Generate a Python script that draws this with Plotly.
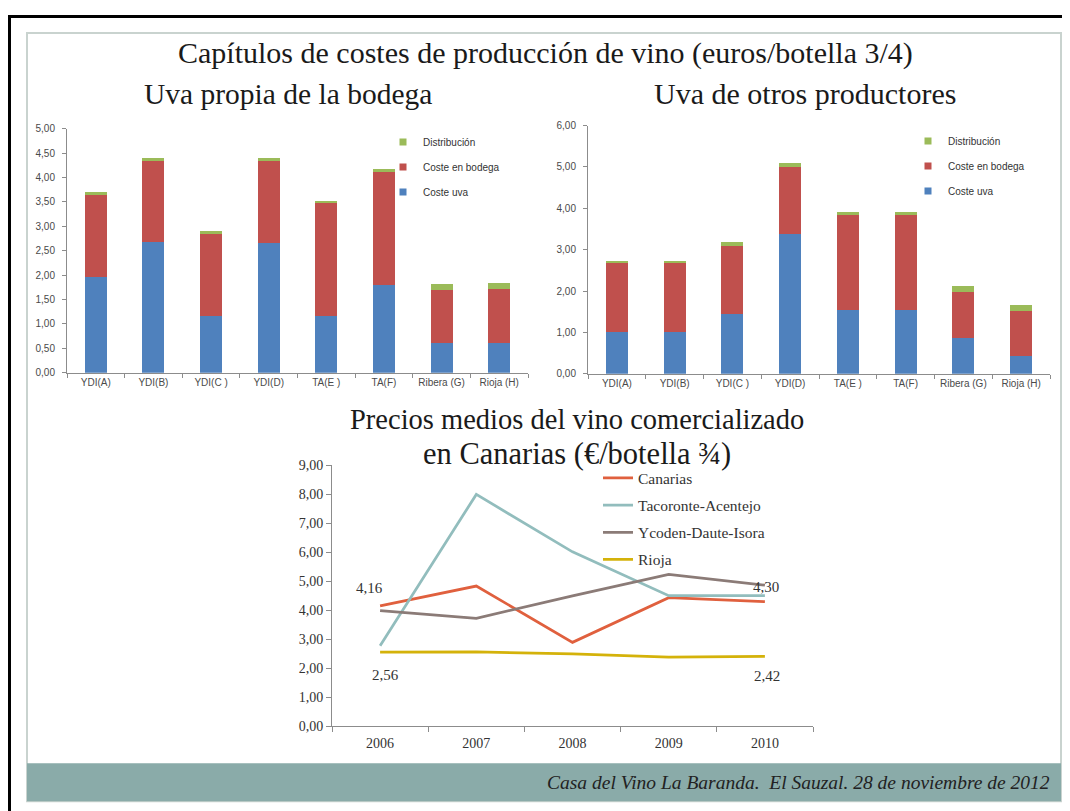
import plotly.graph_objects as go

# Mapping from reference pixels to figure paper coordinates (measured from previous renders)
OFF_X = 8
OFF_Y, SY = 13, 0.985
W, H = 1054, 811

# ---------------- data ----------------
cats = ["YDI(A)", "YDI(B)", "YDI(C )", "YDI(D)", "TA(E )", "TA(F)", "Ribera (G)", "Rioja (H)"]

propia_uva = [1.97, 2.67, 1.16, 2.65, 1.16, 1.80, 0.60, 0.61]
propia_bodega = [1.68, 1.67, 1.68, 1.69, 2.31, 2.32, 1.09, 1.10]
propia_dist = [0.06, 0.06, 0.07, 0.06, 0.05, 0.06, 0.13, 0.13]

otros_uva = [1.00, 1.00, 1.44, 3.37, 1.54, 1.54, 0.86, 0.42]
otros_bodega = [1.69, 1.69, 1.66, 1.64, 2.31, 2.31, 1.12, 1.10]
otros_dist = [0.04, 0.04, 0.09, 0.08, 0.05, 0.05, 0.15, 0.14]

years = ["2006", "2007", "2008", "2009", "2010"]
canarias = [4.16, 4.84, 2.90, 4.44, 4.30]
tacoronte = [2.78, 8.00, 6.02, 4.51, 4.51]
ycoden = [3.99, 3.73, 4.50, 5.24, 4.87]
rioja = [2.56, 2.57, 2.50, 2.39, 2.42]

# ---------------- helpers ----------------
def px(x):
    return (x - OFF_X) / W

def py(y):
    return 1 - max((y - OFF_Y) / SY, 1.5) / H

def dx(a, b):
    return [px(a), px(b)]

def dy(top, bottom):
    return [py(bottom), py(top)]

BLUE, RED, GREEN = "#4F81BD", "#C0504D", "#9BBB59"
SANS = "Liberation Sans, Arial, sans-serif"
SERIF = "Liberation Serif, DejaVu Serif, serif"
TICK = "#4A4A4A"

fig = go.Figure()

def add_stack(uva, bod, dist, xa, ya, leg):
    series = [("Coste uva", uva, BLUE, 3), ("Coste en bodega", bod, RED, 2), ("Distribución", dist, GREEN, 1)]
    for name, vals, col, rank in series:
        fig.add_trace(go.Bar(x=cats, y=vals, name=name, marker=dict(color=col, line=dict(width=0)),
                             xaxis=xa, yaxis=ya, showlegend=False))
    for name, vals, col, rank in series:
        # legend swatch (small square, as in the original)
        fig.add_trace(go.Scatter(x=[None], y=[None], mode="markers", name=name,
                                 marker=dict(symbol="square", size=7, color=col),
                                 xaxis=xa, yaxis=ya, legend=leg, legendgroup=leg + name, legendrank=rank))

add_stack(propia_uva, propia_bodega, propia_dist, "x", "y", "legend")
add_stack(otros_uva, otros_bodega, otros_dist, "x2", "y2", "legend2")

line_specs = [
    ("Canarias", canarias, "#E0603E"),
    ("Tacoronte-Acentejo", tacoronte, "#92BDBD"),
    ("Ycoden-Daute-Isora", ycoden, "#8B7B77"),
    ("Rioja", rioja, "#D4B20A"),
]
for name, vals, col in line_specs:
    fig.add_trace(go.Scatter(x=years, y=vals, name=name, mode="lines",
                             line=dict(color=col, width=2.75),
                             xaxis="x3", yaxis="y3", legend="legend3", legendgroup=name))

# data labels on first / last points of Canarias and Rioja (x given as category index)
lblfont = dict(family=SERIF, size=15, color="#333333")
for series, idx, xs, ys in [(canarias, 0, -11, 18), (canarias, 4, 1, 15), (rioja, 0, 5, -23), (rioja, 4, 2, -20)]:
    fig.add_annotation(x=idx, y=series[idx], xref="x3", yref="y3",
                       text=f"{series[idx]:.2f}".replace(".", ","),
                       showarrow=False, xshift=xs, yshift=ys, font=lblfont)

bar_x = dict(type="category", showline=True, linecolor="#8C8C8C", linewidth=1, ticks="outside",
             tickson="boundaries", ticklen=4, tickcolor="#8C8C8C",
             tickfont=dict(family=SANS, size=10, color=TICK), showgrid=False, zeroline=False)
bar_y = dict(showline=True, linecolor="#8C8C8C", linewidth=1, ticks="outside", ticklen=4,
             tickcolor="#8C8C8C", tickfont=dict(family=SANS, size=10, color=TICK), ticklabelstandoff=5,
             showgrid=False, zeroline=False, tickformat=".2f")
bar_leg = dict(xanchor="left", yanchor="top", traceorder="grouped", tracegroupgap=6,
               bgcolor="rgba(0,0,0,0)", font=dict(family=SANS, size=10, color="#333333"))

fig.update_layout(
    width=W, height=H, margin=dict(l=0, r=0, t=0, b=0),
    paper_bgcolor="white", plot_bgcolor="rgba(0,0,0,0)",
    separators=",.", barmode="stack", bargap=0.62, showlegend=True,
    xaxis=dict(domain=dx(67, 528), anchor="y", **bar_x),
    yaxis=dict(domain=dy(127, 372), anchor="x", range=[0, 5], dtick=0.5, **bar_y),
    xaxis2=dict(domain=dx(588, 1050), anchor="y2", **bar_x),
    yaxis2=dict(domain=dy(124, 373), anchor="x2", range=[0, 6], dtick=1, **bar_y),
    xaxis3=dict(type="category", range=[-0.5, len(years) - 0.5], domain=dx(332, 813), anchor="y3",
                showline=True, linecolor="#8C8C8C", ticks="outside", tickson="boundaries", ticklen=5,
                tickcolor="#8C8C8C", tickfont=dict(family=SERIF, size=14, color="#333333"),
                ticklabelstandoff=4, showgrid=False, zeroline=False),
    yaxis3=dict(domain=dy(465, 727), anchor="x3", range=[0, 9], dtick=1, tickformat=".2f",
                showline=True, linecolor="#8C8C8C", ticks="outside", ticklen=5, tickcolor="#8C8C8C",
                tickfont=dict(family=SERIF, size=14, color="#333333"), showgrid=False, zeroline=False),
    legend=dict(x=px(383), y=py(126), **bar_leg),
    legend2=dict(x=px(908), y=py(125), **bar_leg),
    legend3=dict(x=px(598), y=py(461), xanchor="left", yanchor="top", traceorder="grouped",
                 tracegroupgap=4, bgcolor="rgba(0,0,0,0)", font=dict(family=SERIF, size=15.5, color="#333333")),
)

shapes = [
    # inner panel
    dict(type="rect", xref="paper", yref="paper", x0=px(27), x1=px(1061), y0=py(802), y1=py(31),
         line=dict(color="#C9D3CF", width=2), fillcolor="rgba(0,0,0,0)", layer="below"),
    # footer band
    dict(type="rect", xref="paper", yref="paper", x0=px(27), x1=px(1061), y0=py(802), y1=py(764),
         line=dict(width=0), fillcolor="#8AABA9", layer="below"),
    # black frame
    dict(type="line", xref="paper", yref="paper", x0=px(8), x1=1, y0=py(12), y1=py(12),
         line=dict(color="black", width=3)),
    dict(type="line", xref="paper", yref="paper", x0=px(9.5), x1=px(9.5), y0=0, y1=py(12),
         line=dict(color="black", width=3)),
]
fig.update_layout(shapes=shapes)

def txt(s, x, y, size, family=SERIF, anchor="center", italic=False, color="#1a1a1a"):
    fig.add_annotation(text=("<i>" + s + "</i>") if italic else s, x=px(x), y=py(y), xref="paper", yref="paper",
                       xanchor=anchor, yanchor="middle", showarrow=False,
                       font=dict(family=family, size=size, color=color))

txt("Capítulos de costes de producción de vino (euros/botella 3/4)", 546, 51, 30)
txt("Uva propia de la bodega", 288, 92, 29.5)
txt("Uva de otros productores", 805, 92, 30)
txt("Precios medios del vino comercializado", 577, 419, 28.5)
txt("en Canarias (€/botella ¾)", 577, 454, 30.5)
txt("Casa del Vino La Baranda.  El Sauzal. 28 de noviembre de 2012", 1052, 783, 19.5, anchor="right", italic=True,
    color="#222222")

fig.write_html("out.html")
